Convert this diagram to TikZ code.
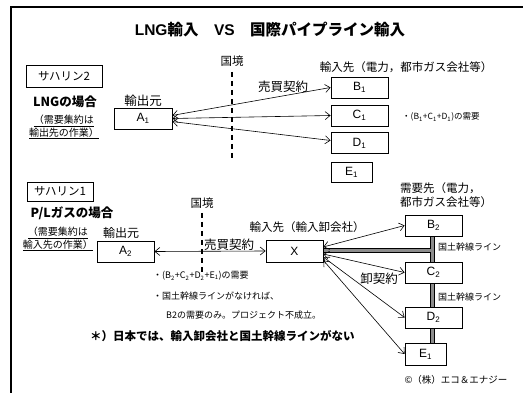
\documentclass[tikz,border=0pt]{standalone}
\usepackage{fontspec}
\setmainfont{Liberation Sans}
\newfontfamily\jpf{Noto Sans CJK JP}
\usetikzlibrary{arrows.meta,backgrounds}
\tikzset{
  box/.style={draw, line width=0.8, fill=white, inner sep=0, font=\fontsize{12}{14}\selectfont},
  lbl/.style={inner sep=0, font=\jpf\fontsize{11.5}{14}\selectfont},
  small/.style={inner sep=0, font=\jpf\fontsize{9}{11}\selectfont},
  arr/.style={{Straight Barb[length=5pt,width=8pt]}-{Straight Barb[length=5pt,width=8pt]}, line width=0.6},
  border/.style={dashed, line width=1.5, dash pattern=on 5pt off 4pt},
  pipeout/.style={line width=5, black},
  pipein/.style={line width=3, gray!90}
}
\begin{document}
\begin{tikzpicture}[x=1pt,y=-1pt]
\useasboundingbox (0,0) rectangle (523,393);
\draw[line width=2] (523,7) -- (11,7) -- (11,393);

\node[inner sep=0, font=\bfseries\fontsize{15.5}{18}\selectfont] (title) at (270,30) {LNG{\jpf 輸入}\quad VS\quad{\jpf 国際パイプライン輸入}};

% ---- section 1 ----
\node[box, minimum width=76, minimum height=22, font=\jpf\fontsize{11.5}{14}\selectfont] (sak2) at (64,76) {サハリン2};
\node[lbl, font=\jpf\bfseries\fontsize{12.5}{15}\selectfont] (lng) at (65,102) {LNGの場合};
\node[small, align=center, font=\jpf\fontsize{10}{10.5}\selectfont] (note1) at (64,127) {\underline{（需要集約は}\\[0pt]\underline{輸出先の作業）}};
\node[lbl, font=\jpf\fontsize{12.5}{15}\selectfont] (exp1) at (143,101) {輸出元};
\node[box, minimum width=58, minimum height=21] (A1) at (143,118.5) {A\textsubscript{1}};
\node[lbl] (kk1) at (232,61) {国境};
\coordinate (kk1a) at (232,72);
\coordinate (kk1b) at (232,160);
\draw[border] (kk1a) -- (kk1b);
\node[lbl] (imp1) at (406,67) {輸入先（電力，都市ガス会社等）};
\node[lbl, font=\jpf\fontsize{12.5}{15}\selectfont] (bb1) at (283,87) {売買契約};
\node[box, minimum width=57, minimum height=21] (B1) at (359.5,87.5) {B\textsubscript{1}};
\node[box, minimum width=57, minimum height=21] (C1) at (359.5,115.5) {C\textsubscript{1}};
\node[box, minimum width=57, minimum height=21] (D1) at (359.5,143) {D\textsubscript{1}};
\node[box, minimum width=41, minimum height=20] (E1a) at (351.5,172) {E\textsubscript{1}};
\node[small, anchor=west, font=\jpf\fontsize{8.5}{10}\selectfont] (dem1) at (402,117) {・(B\textsubscript{1}+C\textsubscript{1}+D\textsubscript{1})の需要};
\draw[arr] (A1.6) -- (B1.west);
\draw[arr] (A1.0) -- (C1.west);
\draw[arr] (A1.-6) -- (D1.175);

% ---- section 2 ----
\node[box, minimum width=66, minimum height=19, font=\jpf\fontsize{11.5}{14}\selectfont] (sak1) at (60,191.5) {サハリン1};
\node[lbl, font=\jpf\bfseries\fontsize{12.5}{15}\selectfont] (pl) at (72,213) {P/Lガスの場合};
\node[small, align=center, font=\jpf\fontsize{10}{10.5}\selectfont] (note2) at (58,239) {\underline{（需要集約は}\\[0pt]\underline{輸入先の作業）}};
\node[lbl, font=\jpf\fontsize{12}{15}\selectfont] (exp2) at (121,233) {輸出元};
\node[box, minimum width=57, minimum height=21] (A2) at (125.5,251.5) {A\textsubscript{2}};
\node[lbl] (kk2) at (202,203) {国境};
\coordinate (kk2a) at (202,213);
\coordinate (kk2b) at (202,274);
\draw[border] (kk2a) -- (kk2b);
\node[lbl, font=\jpf\fontsize{12.5}{15}\selectfont] (bb2) at (229,245) {売買契約};
\node[lbl] (imp2) at (307,227) {輸入先（輸入卸会社）};
\node[box, minimum width=57, minimum height=22] (X) at (294.5,251) {X};
\node[lbl, anchor=west, align=left] (dem2) at (400,195) {需要先（電力，\\都市ガス会社等）};
\node[box, minimum width=57, minimum height=21] (B2) at (433.5,225.5) {B\textsubscript{2}};
\node[box, minimum width=57, minimum height=21] (C2) at (433.5,272.5) {C\textsubscript{2}};
\node[box, minimum width=57, minimum height=21] (D2) at (433.5,317.5) {D\textsubscript{2}};
\node[box, minimum width=41, minimum height=22] (E1b) at (425.5,354) {E\textsubscript{1}};
\coordinate (pj) at (432,251);
\begin{scope}[on background layer]
  \draw[pipeout] (X.east |- pj) -- (pj);
  \draw[pipeout] (B2.south -| pj) -- (E1b.north -| pj);
  \draw[pipein] (X.east |- pj) -- (pj);
  \draw[pipein] (B2.south -| pj) -- (E1b.north -| pj);
\end{scope}
\node[small, anchor=west] (nk1) at (438,247) {国土幹線ライン};
\node[small, anchor=west] (nk2) at (438,297) {国土幹線ライン};
\node[lbl, font=\jpf\fontsize{12.5}{15}\selectfont] (os) at (379,279) {卸契約};
\draw[arr] (A2.east) -- (X.west);
\draw[arr] (X.8) -- (B2.west);
\draw[arr] (X.-6) -- (C2.west);
\draw[arr] (X.-12) -- (D2.west);
\draw[arr] (X.-18) -- (E1b.west);

\node[small, anchor=west] (d1) at (153,276) {・(B\textsubscript{2}+C\textsubscript{2}+D\textsubscript{2}+E\textsubscript{1})の需要};
\node[small, anchor=west] (d2) at (153,296) {・国土幹線ラインがなければ、};
\node[small, anchor=west] (d3) at (166,315) {B2の需要のみ。プロジェクト不成立。};
\node[lbl, anchor=west, font=\jpf\bfseries\fontsize{11.5}{14}\selectfont] (jp) at (90,336) {＊）日本では、輸入卸会社と国土幹線ラインがない};
\node[small, font=\jpf\fontsize{9.5}{11}\selectfont] (copy) at (456,380) {©（株）エコ＆エナジー};
\end{tikzpicture}
\end{document}
